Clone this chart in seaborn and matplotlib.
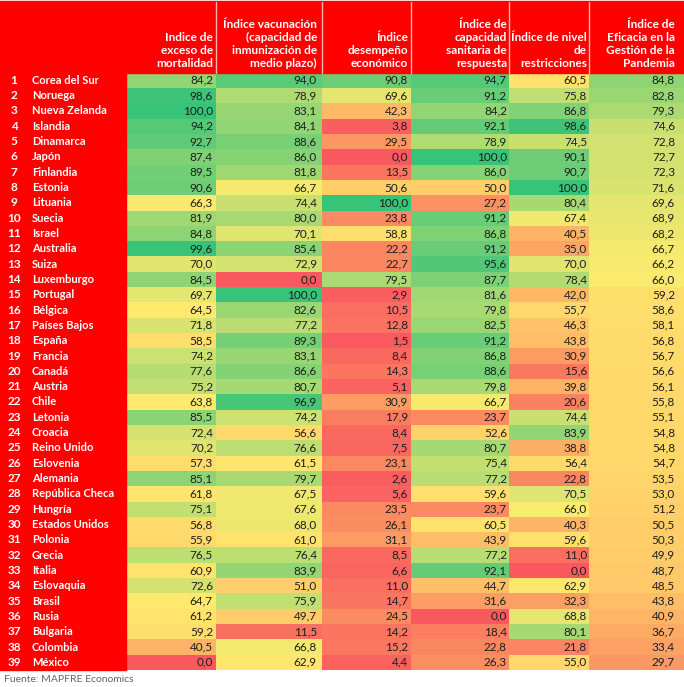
import matplotlib
matplotlib.use('Agg')
import matplotlib.pyplot as plt
import seaborn as sns
import pandas as pd
from matplotlib.colors import LinearSegmentedColormap
from matplotlib.patches import Rectangle
from matplotlib.lines import Line2D

countries = [
    "Corea del Sur", "Noruega", "Nueva Zelanda", "Islandia", "Dinamarca", "Japón",
    "Finlandia", "Estonia", "Lituania", "Suecia", "Israel", "Australia", "Suiza",
    "Luxemburgo", "Portugal", "Bélgica", "Países Bajos", "España", "Francia", "Canadá",
    "Austria", "Chile", "Letonia", "Croacia", "Reino Unido", "Eslovenia", "Alemania",
    "República Checa", "Hungría", "Estados Unidos", "Polonia", "Grecia", "Italia",
    "Eslovaquia", "Brasil", "Rusia", "Bulgaria", "Colombia", "México",
]
mortalidad = [84.2, 98.6, 100.0, 94.2, 92.7, 87.4, 89.5, 90.6, 66.3, 81.9, 84.8, 99.6, 70.0,
              84.5, 69.7, 64.5, 71.8, 58.5, 74.2, 77.6, 75.2, 63.8, 85.5, 72.4, 70.2, 57.3,
              85.1, 61.8, 75.1, 56.8, 55.9, 76.5, 60.9, 72.6, 64.7, 61.2, 59.2, 40.5, 0.0]
vacunacion = [94.0, 78.9, 83.1, 84.1, 88.6, 86.0, 81.8, 66.7, 74.4, 80.0, 70.1, 85.4, 72.9,
              0.0, 100.0, 82.6, 77.2, 89.3, 83.1, 86.6, 80.7, 96.9, 74.2, 56.6, 76.6, 61.5,
              79.7, 67.5, 67.6, 68.0, 61.0, 76.4, 83.9, 51.0, 75.9, 49.7, 11.5, 66.8, 62.9]
economico = [90.8, 69.6, 42.3, 3.8, 29.5, 0.0, 13.5, 50.6, 100.0, 23.8, 58.8, 22.2, 22.7,
             79.5, 2.9, 10.5, 12.8, 1.5, 8.4, 14.3, 5.1, 30.9, 17.9, 8.4, 7.5, 23.1,
             2.6, 5.6, 23.5, 26.1, 31.1, 8.5, 6.6, 11.0, 14.7, 24.5, 14.2, 15.2, 4.4]
sanitaria = [94.7, 91.2, 84.2, 92.1, 78.9, 100.0, 86.0, 50.0, 27.2, 91.2, 86.8, 91.2, 95.6,
             87.7, 81.6, 79.8, 82.5, 91.2, 86.8, 88.6, 79.8, 66.7, 23.7, 52.6, 80.7, 75.4,
             77.2, 59.6, 23.7, 60.5, 43.9, 77.2, 92.1, 44.7, 31.6, 0.0, 18.4, 22.8, 26.3]
restricciones = [60.5, 75.8, 86.8, 98.6, 74.5, 90.1, 90.7, 100.0, 80.4, 67.4, 40.5, 35.0, 70.0,
                 78.4, 42.0, 55.7, 46.3, 43.8, 30.9, 15.6, 39.8, 20.6, 74.4, 83.9, 38.8, 56.4,
                 22.8, 70.5, 66.0, 40.3, 59.6, 11.0, 0.0, 62.9, 32.3, 68.8, 80.1, 21.8, 55.0]
eficacia = [84.8, 82.8, 79.3, 74.6, 72.8, 72.7, 72.3, 71.6, 69.6, 68.9, 68.2, 66.7, 66.2,
            66.0, 59.2, 58.6, 58.1, 56.8, 56.7, 56.6, 56.1, 55.8, 55.1, 54.8, 54.8, 54.7,
            53.5, 53.0, 51.2, 50.5, 50.3, 49.9, 48.7, 48.5, 43.8, 40.9, 36.7, 33.4, 29.7]

headers = [
    "Indice de\nexceso de\nmortalidad",
    "Índice vacunación\n(capacidad de\ninmunización de\nmedio plazo)",
    "Índice\ndesempeño\neconómico",
    "Índice de\ncapacidad\nsanitaria de\nrespuesta",
    "Índice de nivel\nde\nrestricciones",
    "Índice de\nEficacia en la\nGestión de la\nPandemia",
]

df = pd.DataFrame({
    headers[0]: mortalidad, headers[1]: vacunacion, headers[2]: economico,
    headers[3]: sanitaria, headers[4]: restricciones, headers[5]: eficacia,
}, index=countries)

# ---- layout (pixels of a 684x687 canvas) ----
W, H = 684, 687
col_edges = [126, 216, 322, 411, 509, 589, 684]
text_right = [213, 317, 408, 507, 587, 675]
table_top, table_bot = 72.7, 670.0
n = len(countries)
row_h = (table_bot - table_top) / n

sns.set_theme(style="white")
plt.rcParams['font.family'] = ['Lato', 'DejaVu Sans']

cmap = LinearSegmentedColormap.from_list("rdylgn_xl", [
    (0.00, "#FA585F"), (0.25, "#FB8C61"), (0.50, "#FFCD69"),
    (0.65, "#FFEB6E"), (1.00, "#37C378")])

fig = plt.figure(figsize=(W / 100, H / 100), dpi=100)


def fx(x):
    return x / W


def fy(y):
    return 1 - y / H


# red header band and left label band
fig.patches.append(Rectangle((0, fy(table_top)), 1, fy(1.5) - fy(table_top),
                             transform=fig.transFigure, color="#FF0000", zorder=0))
fig.patches.append(Rectangle((0, fy(table_bot)), fx(col_edges[0]), fy(table_top) - fy(table_bot),
                             transform=fig.transFigure, color="#FF0000", zorder=0))

for j, col in enumerate(df.columns):
    left, right = col_edges[j], col_edges[j + 1]
    ax = fig.add_axes([fx(left), fy(table_bot), fx(right - left), fy(table_top) - fy(table_bot)])
    sns.heatmap(df[[col]], ax=ax, cmap=cmap, vmin=0, vmax=100, cbar=False,
                xticklabels=False, yticklabels=False)
    ax.set_xlabel("")
    ax.set_ylabel("")
    xr = (text_right[j] - left) / (right - left)
    for i, v in enumerate(df[col]):
        ax.text(xr, i + 0.5, f"{v:.1f}".replace(".", ","), ha="right", va="center",
                fontsize=8.5, color="#1e1e1e")
    # header text, bottom aligned, right aligned
    fig.text(fx(text_right[j]), fy(table_top - 4), col, ha="right", va="bottom",
             multialignment="right", fontsize=8.5, fontweight="bold", color="white",
             linespacing=1.2)
    if j > 0:
        fig.add_artist(Line2D([fx(left), fx(left)], [fy(table_top), fy(2)],
                              color="#ffb3b3", lw=1.0))

# rank numbers and country names
for i, name in enumerate(countries):
    yc = fy(table_top + (i + 0.5) * row_h)
    fig.text(fx(14), yc, str(i + 1), ha="center", va="center", fontsize=8.5,
             fontweight="bold", color="white")
    fig.text(fx(32), yc, name, ha="left", va="center", fontsize=8,
             fontweight="bold", color="white")

fig.text(fx(4), fy(680), "Fuente: MAPFRE Economics", ha="left", va="center",
         fontsize=7.5, color="#666666")

fig.savefig("out.png", dpi=100)
plt.close(fig)
